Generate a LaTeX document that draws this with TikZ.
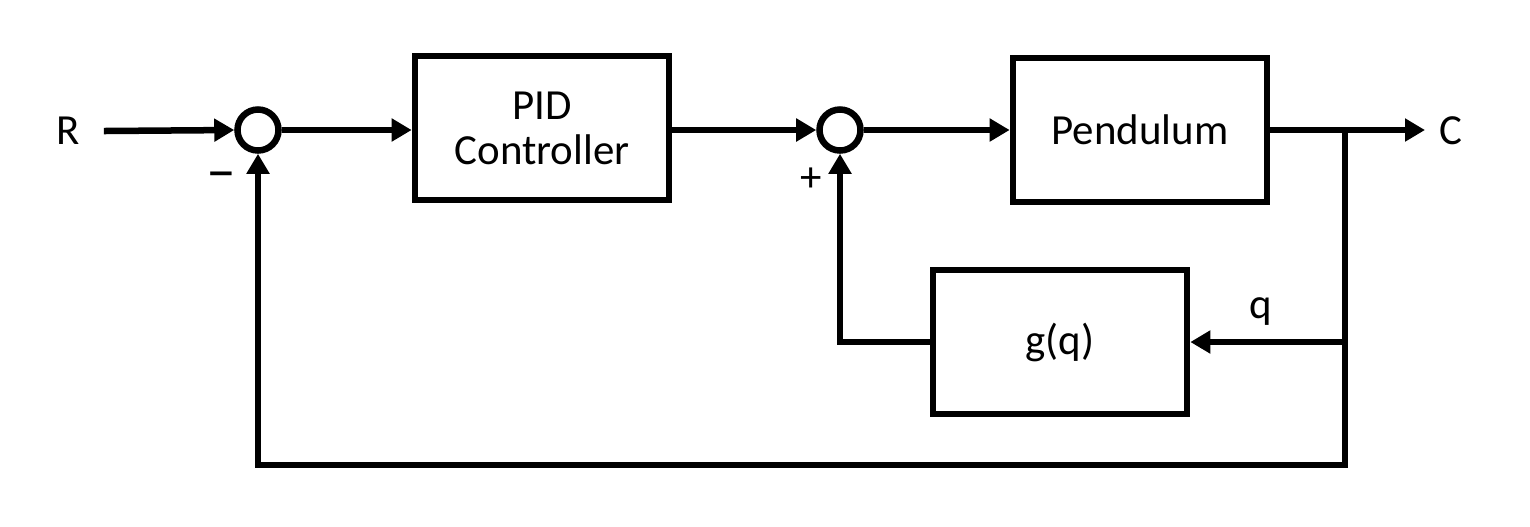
\documentclass[tikz,border=0pt]{standalone}
\usepackage{fontspec}
\setmainfont{Carlito}
\usetikzlibrary{arrows.meta}
\begin{document}
\begin{tikzpicture}[x=0.01cm,y=-0.01cm,
  line width=0.065cm,
  blk/.style={draw, minimum width=2.54cm, minimum height=1.44cm, inner sep=0pt, align=center, font=\fontsize{12.2}{12.8}\selectfont},
  sumnode/.style={draw, circle, minimum size=0.41cm, inner sep=0pt},
  lbl/.style={font=\fontsize{12.2}{13}\selectfont, inner sep=0pt},
  arr/.style={-{Triangle[length=0.2cm,width=0.22cm]}}]
\path[use as bounding box] (0,0) rectangle (1530,526);
\node[lbl] (R) at (68,131) {R};
\node[sumnode] (s1) at (258,130) {};
\node[blk] (pid) at (542,128) {PID\\Controller};
\node[sumnode] (s2) at (840,130) {};
\node[blk] (pend) at (1140,130) {Pendulum};
\node[blk] (g) at (1060,342) {g(q)};
\coordinate (br) at (1345,130);
\coordinate (out) at (1425,130);
\coordinate (qtap) at (1345,342);
\coordinate (bb) at (1345,465);
\node[lbl] (C) at (1451,131) {C};
\node[lbl] (q) at (1261,312) {q};
\node[lbl, font=\fontsize{17}{18}\selectfont] (minus) at (221,181) {–};
\node[lbl] (plus) at (811,180) {+};
\draw[arr] ([xshift=0.21cm]R.east) -- (s1.west);
\draw[arr] (s1.east) -- (pid.west |- s1.east);
\draw[arr] (pid.east |- s2.west) -- (s2.west);
\draw[arr] (s2.east) -- (pend.west);
\draw[arr] (pend.east) -- (out);
\draw[arr] (br) -- (bb) -| (s1.south);
\draw[arr] (qtap) -- (g.east);
\draw[arr] (g.west) -| (s2.south);
\end{tikzpicture}
\end{document}
